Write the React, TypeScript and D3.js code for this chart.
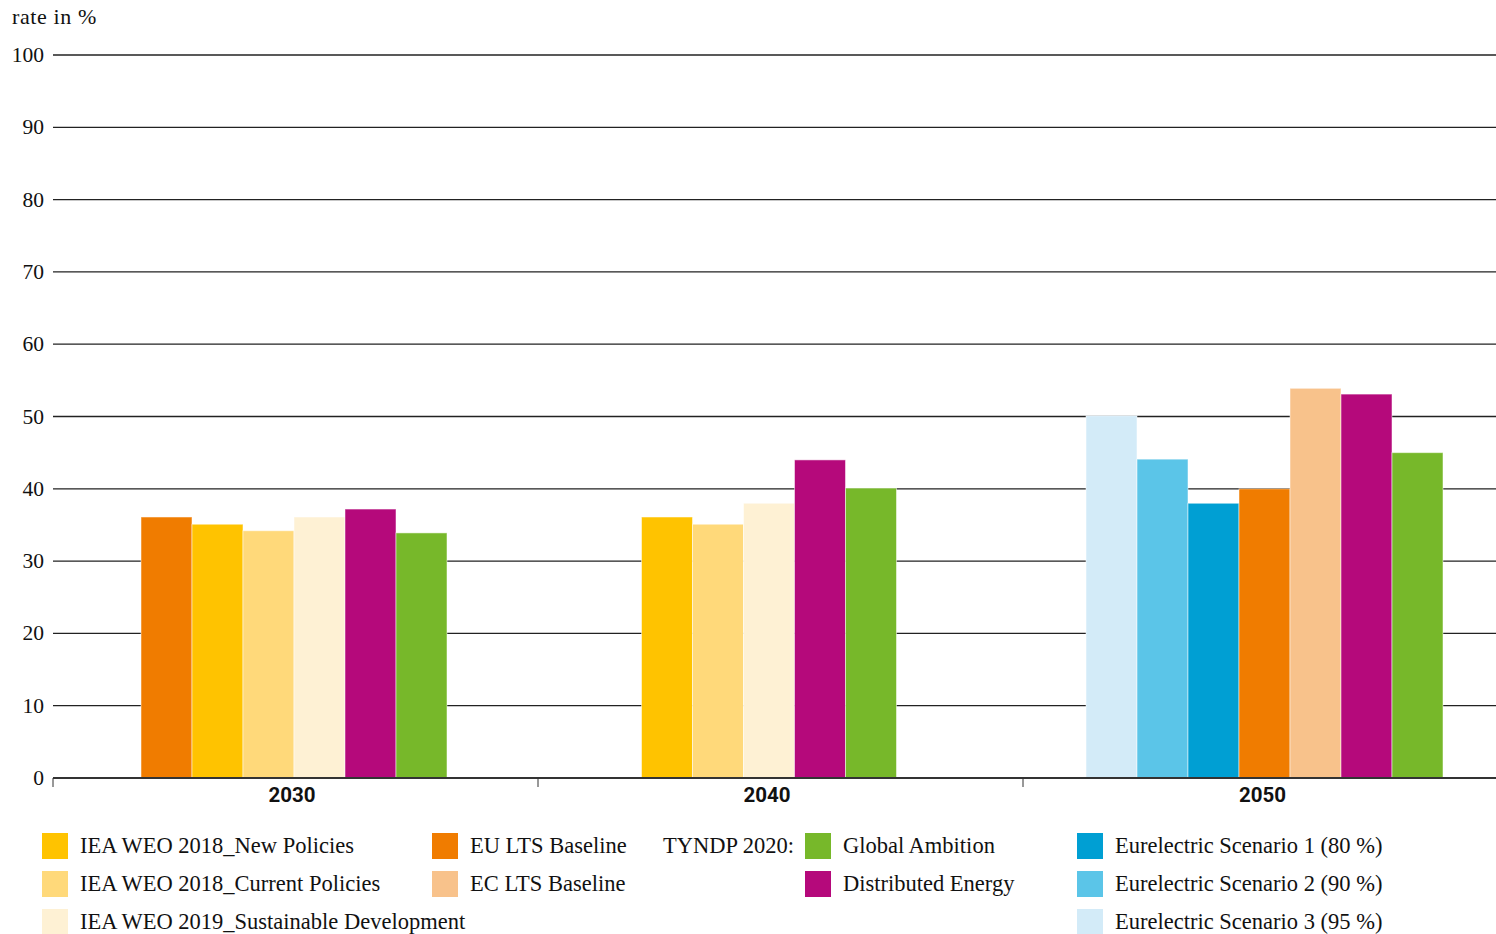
import React from "react";
import * as d3 from "d3";

const years = ["2030", "2040", "2050"];
const yTicks = [0, 10, 20, 30, 40, 50, 60, 70, 80, 90, 100];

// series keys
const seriesKeys = [
  "iea_new", "iea_cur", "iea_sus", "eu_lts", "ec_lts",
  "global", "distributed", "eur1", "eur2", "eur3",
];
const seriesLabels = [
  "IEA WEO 2018_New Policies", "IEA WEO 2018_Current Policies", "IEA WEO 2019_Sustainable Development",
  "EU LTS Baseline", "EC LTS Baseline", "Global Ambition", "Distributed Energy",
  "Eurelectric Scenario 1 (80 %)", "Eurelectric Scenario 2 (90 %)", "Eurelectric Scenario 3 (95 %)",
];
const seriesColors = [
  "#FFC300", "#FFD97A", "#FEF1D4", "#F07C00", "#F8C28B",
  "#77B82A", "#B5097B", "#009FD3", "#5BC5E8", "#D3EBF8",
];

// bars per year, in drawing order
const bars2030Keys = ["eu_lts", "iea_new", "iea_cur", "iea_sus", "distributed", "global"];
const bars2030Values = [36.1, 35.1, 34.2, 36.1, 37.2, 33.9];
const bars2040Keys = ["iea_new", "iea_cur", "iea_sus", "distributed", "global"];
const bars2040Values = [36.1, 35.1, 38.0, 44.0, 40.1];
const bars2050Keys = ["eur3", "eur2", "eur1", "eu_lts", "ec_lts", "distributed", "global"];
const bars2050Values = [50.1, 44.1, 38.0, 40.0, 53.9, 53.1, 45.0];

// legend layout: columns of series keys
const legendCol1 = ["iea_new", "iea_cur", "iea_sus"];
const legendCol2 = ["eu_lts", "ec_lts"];
const legendCol3 = ["global", "distributed"];
const legendCol4 = ["eur1", "eur2", "eur3"];

const W = 1496;
const H = 934;
const FONT = "'Liberation Serif', 'DejaVu Serif', serif";

export default function App() {
  const left = 53;
  const right = 1496;
  const top = 55;
  const bottom = 778;
  const y = d3.scaleLinear().domain([0, 100]).range([bottom, top]);
  const x = d3.scaleBand().domain(years).range([left, left + 485 * 3]).paddingInner(0).paddingOuter(0);
  const barW = 51;
  const groupShift = [-1.5, -11.5, -1];

  const groups = [
    { year: "2030", keys: bars2030Keys, values: bars2030Values },
    { year: "2040", keys: bars2040Keys, values: bars2040Values },
    { year: "2050", keys: bars2050Keys, values: bars2050Values },
  ];
  const colorOf = (k: string) => seriesColors[seriesKeys.indexOf(k)];
  const labelOf = (k: string) => seriesLabels[seriesKeys.indexOf(k)];

  const legendCols = [
    { keys: legendCol1, x: 42 },
    { keys: legendCol2, x: 432 },
    { keys: legendCol3, x: 805 },
    { keys: legendCol4, x: 1077 },
  ];

  return (
    <svg width={W} height={H} style={{ position: "absolute", left: 0, top: 0, background: "#fff" }}>
      <text x={12} y={24} fontFamily={FONT} fontSize={22} fill="#111" letterSpacing={0.6}>rate in %</text>
      {yTicks.map((t) => (
        <g key={t}>
          {t > 0 && <line x1={left} x2={right} y1={y(t)} y2={y(t)} stroke="#222" strokeWidth={1.3} />}
          <text x={44} y={y(t) + 7} textAnchor="end" fontFamily={FONT} fontSize={21.5} fill="#111">{t}</text>
        </g>
      ))}
      {groups.map((g, gi) => {
        const n = g.keys.length;
        const cx = (x(g.year) as number) + x.bandwidth() / 2 + groupShift[gi];
        const start = cx - (n * barW) / 2;
        return (
          <g key={g.year}>
            {g.keys.map((k, i) => (
              <rect
                key={k}
                x={start + i * barW}
                y={y(g.values[i])}
                width={barW}
                height={y(0) - y(g.values[i])}
                fill={colorOf(k)}
                stroke="#fff"
                strokeOpacity={0.5}
                strokeWidth={1}
              />
            ))}
          </g>
        );
      })}
      <line x1={left} x2={right} y1={bottom} y2={bottom} stroke="#333" strokeWidth={2} />
      {years.map((yr, i) => (
        <g key={yr}>
          <line x1={(x(yr) as number)} x2={(x(yr) as number)} y1={bottom} y2={bottom + 9} stroke="#333" strokeWidth={1} />
          <text
            x={(x(yr) as number) + x.bandwidth() / 2 + groupShift[i] - 2}
            y={802}
            textAnchor="middle"
            fontFamily="Roboto, sans-serif"
            fontWeight="bold"
            fontSize={20.5}
            fill="#111"
          >{yr}</text>
        </g>
      ))}
      {legendCols.map((c) => (
        <g key={c.x}>
          {c.keys.map((k, i) => (
            <g key={k}>
              <rect x={c.x} y={833 + i * 38} width={26} height={26} fill={colorOf(k)} />
              <text x={c.x + 38} y={853 + i * 38} fontFamily={FONT} fontSize={22.5} fill="#111">{labelOf(k)}</text>
            </g>
          ))}
        </g>
      ))}
      <text x={663} y={853} fontFamily={FONT} fontSize={22.5} fill="#111">TYNDP 2020:</text>
    </svg>
  );
}
